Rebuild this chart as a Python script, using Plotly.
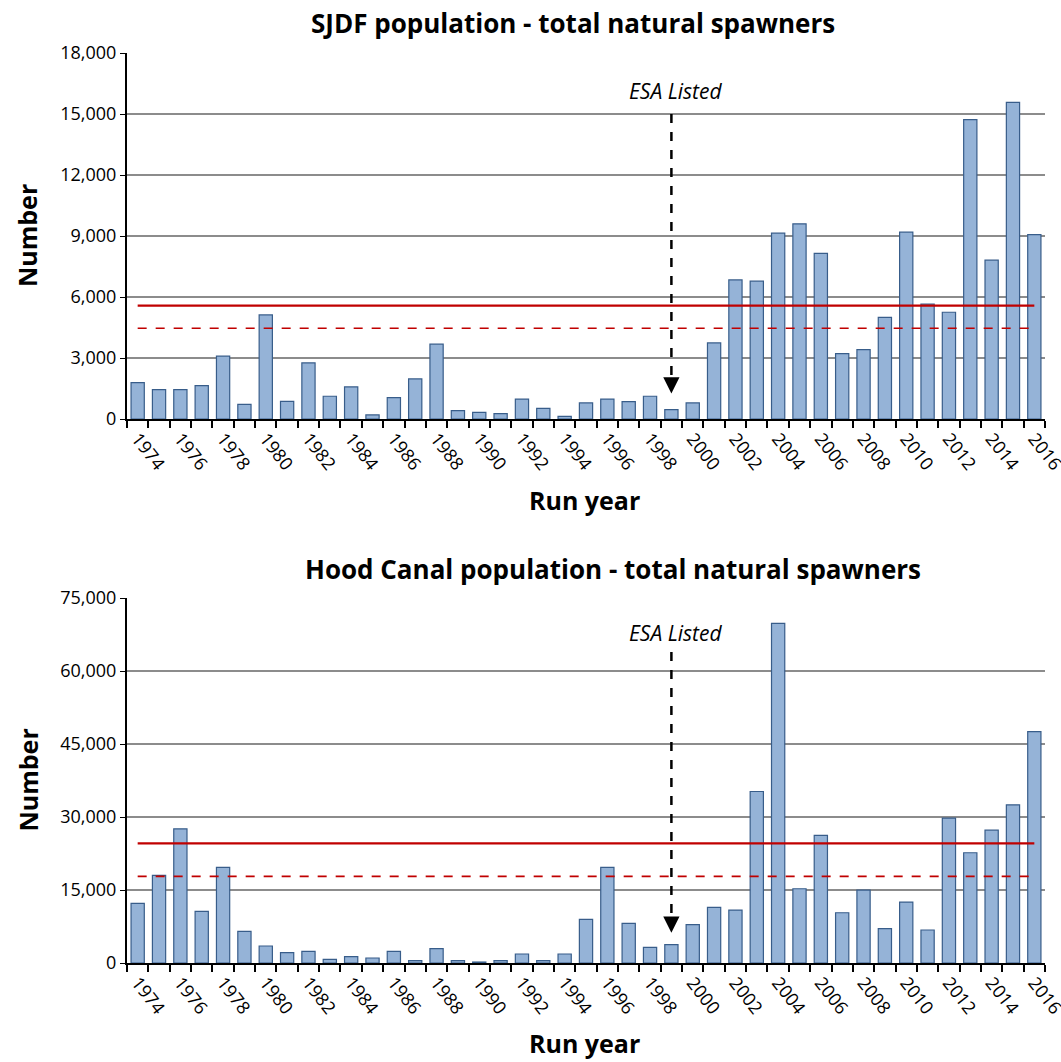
import plotly.graph_objects as go
from plotly.subplots import make_subplots

years = list(range(1974, 2017))

sjdf_spawners = [
    1790, 1440, 1440, 1640, 3090, 720, 5120, 870, 2760, 1120,
    1580, 200, 1050, 1970, 3680, 410, 330, 260, 980, 520,
    130, 790, 980, 850, 1120, 460, 790, 3740, 6840, 6780,
    9140, 9600, 8150, 3220, 3410, 5000, 9190, 5650, 5250, 14720,
    7810, 15570, 9070,
]
hood_spawners = [
    12250, 18000, 27580, 10610, 19640, 6500, 3490, 2120, 2400, 750,
    1300, 1030, 2400, 480, 2940, 480, 200, 480, 1850, 480,
    1850, 8960, 19640, 8140, 3220, 3760, 7870, 11430, 10880, 35240,
    69800, 15260, 26210, 10330, 14990, 7050, 12520, 6780, 29770, 22650,
    27300, 32500, 47560,
]

sjdf_solid_level = 5580
sjdf_dashed_level = 4460
hood_solid_level = 24570
hood_dashed_level = 17790

esa_year = 1999
year_ticks = list(range(1974, 2017, 2))

# full-window figure; body margin removed in post_script below
W, H = 1061, 1062
FONT = "Open Sans"
BAR_FILL = "#95B3D7"
BAR_LINE = "#385D8A"
RED = "#C00000"


def px_x(x):
    return x / W


def px_y(y):
    return 1 - y / H


fig = make_subplots(rows=2, cols=1)

panels = [
    dict(row=1, vals=sjdf_spawners, solid=sjdf_solid_level, dashed=sjdf_dashed_level,
         ymax=18000, dtick=3000, top=53, bottom=419, xtitle_y=500,
         title="SJDF population - total natural spawners", title_x=573, title_y=23,
         esa_top=15000, esa_tip=1260, esa_text=16150),
    dict(row=2, vals=hood_spawners, solid=hood_solid_level, dashed=hood_dashed_level,
         ymax=75000, dtick=15000, top=598, bottom=963, xtitle_y=1043,
         title="Hood Canal population - total natural spawners", title_x=613, title_y=569,
         esa_top=63900, esa_tip=6200, esa_text=67900),
]

x_left, x_right = 127, 1045

for p in panels:
    r = p["row"]
    fig.add_trace(go.Bar(x=years, y=p["vals"], marker=dict(color=BAR_FILL, line=dict(color=BAR_LINE, width=1.2)),
                         width=0.62, showlegend=False), row=r, col=1)
    fig.add_trace(go.Scatter(x=[years[0], years[-1]], y=[p["solid"]] * 2, mode="lines",
                             line=dict(color=RED, width=2.2), showlegend=False), row=r, col=1)
    fig.add_trace(go.Scatter(x=[years[0], years[-1]], y=[p["dashed"]] * 2, mode="lines",
                             line=dict(color=RED, width=1.6, dash="dash"), showlegend=False), row=r, col=1)

    xa = "x" if r == 1 else "x2"
    ya = "y" if r == 1 else "y2"
    fig.add_shape(type="line", x0=esa_year, x1=esa_year, y0=p["esa_top"], y1=p["esa_tip"] * 1.5,
                  xref=xa, yref=ya, line=dict(color="black", width=2.5, dash="dash"))
    fig.add_annotation(x=esa_year, y=p["esa_tip"], xref=xa, yref=ya, ax=0, ay=-16, text="",
                       showarrow=True, arrowhead=2, arrowsize=1.3, arrowwidth=2.5, arrowcolor="black", standoff=0)
    fig.add_annotation(x=esa_year + 0.2, y=p["esa_text"], xref=xa, yref=ya, text="<i>ESA Listed</i>",
                       showarrow=False, font=dict(family=FONT, size=21, color="black"))

    fig.update_xaxes(row=r, col=1, range=[1973.5, 2016.5], domain=[px_x(x_left), px_x(x_right)],
                     tickvals=year_ticks, ticktext=[str(y) for y in year_ticks], tickangle=52,
                     ticks="", showgrid=False, showline=True, linecolor="black", linewidth=2,
                     automargin=False, ticklabeloverflow="allow",
                     tickfont=dict(family=FONT, size=18, color="black"),
                     minor=dict(ticks="outside", tick0=1973.5, dtick=1, ticklen=7, tickcolor="black", tickwidth=1.5))
    fig.update_yaxes(row=r, col=1, range=[0, p["ymax"]], dtick=p["dtick"], tickformat=",d",
                     domain=[px_y(p["bottom"]), px_y(p["top"])], automargin=False,
                     showgrid=True, gridcolor="#8C8C8C", gridwidth=1.5, zeroline=False,
                     showline=True, linecolor="black", linewidth=2, ticks="outside", ticklen=5,
                     tickcolor="black", tickfont=dict(family=FONT, size=18, color="black"))

    fig.add_annotation(xref="paper", yref="paper", x=px_x(p["title_x"]), y=px_y(p["title_y"]),
                       yanchor="middle", text="<b>" + p["title"] + "</b>", showarrow=False,
                       font=dict(family=FONT, size=26, color="black"))
    fig.add_annotation(xref="paper", yref="paper", x=px_x(27), y=px_y((p["top"] + p["bottom"]) / 2),
                       xanchor="center", yanchor="middle", text="<b>Number</b>", textangle=-90,
                       showarrow=False, font=dict(family=FONT, size=25, color="black"))
    fig.add_annotation(xref="paper", yref="paper", x=px_x(584), y=px_y(p["xtitle_y"]),
                       yanchor="middle", text="<b>Run year</b>", showarrow=False,
                       font=dict(family=FONT, size=25, color="black"))

fig.update_layout(width=W, height=H, autosize=False, margin=dict(l=0, r=0, t=0, b=0, autoexpand=False),
                  plot_bgcolor="white", paper_bgcolor="white", bargap=0.38,
                  font=dict(family=FONT, color="black"))

fig.write_html("out.html", config={"displayModeBar": False},
               post_script="document.body.style.margin='0';")
